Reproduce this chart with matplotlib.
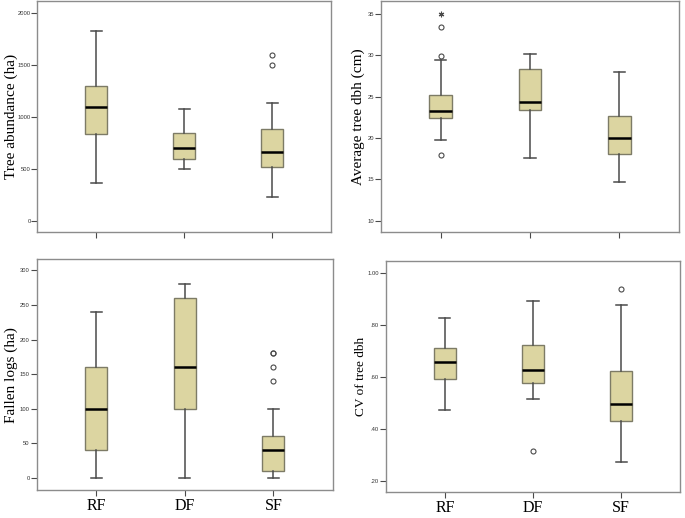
import matplotlib
matplotlib.use("Agg")
import matplotlib.pyplot as plt

groups = ["RF", "DF", "SF"]

# box stats per panel: whislo, q1, med, q3, whishi
abund_stats = [[367, 843, 1100, 1300, 1836],
               [502, 595, 708, 850, 1075],
               [232, 518, 667, 885, 1133]]
abund_out = [[], [], [1500, 1604]]
abund_ext = [[], [], []]

dbh_stats = [[19.75, 22.4, 23.2, 25.2, 29.4],
             [17.6, 23.4, 24.3, 28.4, 30.2],
             [14.7, 18.05, 19.95, 22.7, 28.0]]
dbh_out = [[17.9, 29.9, 33.4], [], []]
dbh_ext = [[35.0], [], []]

logs_stats = [[0, 40, 100, 160, 240],
              [0, 100, 160, 260, 280],
              [0, 10, 40, 60, 100]]
logs_out = [[], [], [140, 160, 180, 180]]
logs_ext = [[], [], []]

cv_stats = [[0.475, 0.591, 0.660, 0.712, 0.829],
            [0.514, 0.576, 0.628, 0.722, 0.894],
            [0.275, 0.430, 0.497, 0.623, 0.878]]
cv_out = [[], [0.316], [0.938]]
cv_ext = [[], [], []]

panels = [
    dict(stats=abund_stats, out=abund_out, ext=abund_ext, label="Tree abundance (ha)",
         ticks=[0, 500, 1000, 1500, 2000], fmt="{:.0f}", ylim=(-109, 2120),
         rect=[0.0547, 0.5515, 0.4285, 0.4465], xlab=False, lsize=11, lx=-0.066),
    dict(stats=dbh_stats, out=dbh_out, ext=dbh_ext, label="Average tree dbh (cm)",
         ticks=[10, 15, 20, 25, 30, 35], fmt="{:.0f}", ylim=(8.57, 36.57),
         rect=[0.5558, 0.5515, 0.4359, 0.4465], xlab=False, lsize=11, lx=-0.053),
    dict(stats=logs_stats, out=logs_out, ext=logs_ext, label="Fallen logs (ha)",
         ticks=[0, 50, 100, 150, 200, 250, 300], fmt="{:.0f}", ylim=(-17.3, 316.2),
         rect=[0.0536, 0.0541, 0.4321, 0.4454], xlab=True, lsize=11, lx=-0.063),
    dict(stats=cv_stats, out=cv_out, ext=cv_ext, label="CV of tree dbh",
         ticks=[0.2, 0.4, 0.6, 0.8, 1.0], fmt="cv", ylim=(0.159, 1.047),
         rect=[0.5635, 0.0508, 0.4292, 0.4454], xlab=True, lsize=9.5, lx=-0.065),
]

fill = "#dcd5a1"
edge = "#7d7b66"
wcol = "#4a4a4a"
spine = "#8c8c8c"

fig = plt.figure(figsize=(6.85, 5.18), dpi=100)

for p in panels:
    ax = fig.add_axes(p["rect"])
    bstats = []
    for i, s in enumerate(p["stats"]):
        bstats.append(dict(whislo=s[0], q1=s[1], med=s[2], q3=s[3], whishi=s[4],
                           fliers=p["out"][i], label=groups[i]))
    ax.bxp(bstats, positions=[1, 2, 3], widths=0.25, patch_artist=True,
           showfliers=True,
           boxprops=dict(facecolor=fill, edgecolor=edge, linewidth=1.0),
           medianprops=dict(color="black", linewidth=1.8),
           whiskerprops=dict(color=wcol, linewidth=1.1),
           capprops=dict(color=wcol, linewidth=1.1),
           capwidths=0.125,
           flierprops=dict(marker="o", markersize=3.6, markerfacecolor="none",
                           markeredgecolor=wcol, markeredgewidth=0.8))
    # extreme values (SPSS star)
    for i, vals in enumerate(p["ext"]):
        if vals:
            ax.plot([i + 1] * len(vals), vals, linestyle="none", marker=(6, 2, 0),
                    markersize=4, color=wcol, markeredgewidth=0.8)

    ax.set_xlim(0.33, 3.67)
    ax.set_ylim(*p["ylim"])
    ax.set_yticks(p["ticks"])
    if p["fmt"] == "cv":
        ax.set_yticklabels(["{:.2f}".format(t).lstrip("0") for t in p["ticks"]])
    else:
        ax.set_yticklabels([p["fmt"].format(t) for t in p["ticks"]])
    for t in ax.get_yticklabels():
        t.set_family("Liberation Sans")
    ax.set_xticks([1, 2, 3])
    if p["xlab"]:
        ax.set_xticklabels(groups, fontsize=11.5, family="Liberation Serif")
    else:
        ax.set_xticklabels([])
    ax.tick_params(axis="y", direction="out", length=4, width=0.8, color=wcol,
                   labelsize=4.2, labelcolor="#333333", pad=1)
    ax.tick_params(axis="x", direction="out", length=4, width=0.8, color=wcol, pad=2)
    for sp in ax.spines.values():
        sp.set_color(spine)
        sp.set_linewidth(1.0)
    ax.set_ylabel(p["label"], fontsize=p["lsize"], family="Liberation Serif")
    ax.yaxis.set_label_coords(p["lx"], 0.5)

fig.savefig("out.png", dpi=100)
